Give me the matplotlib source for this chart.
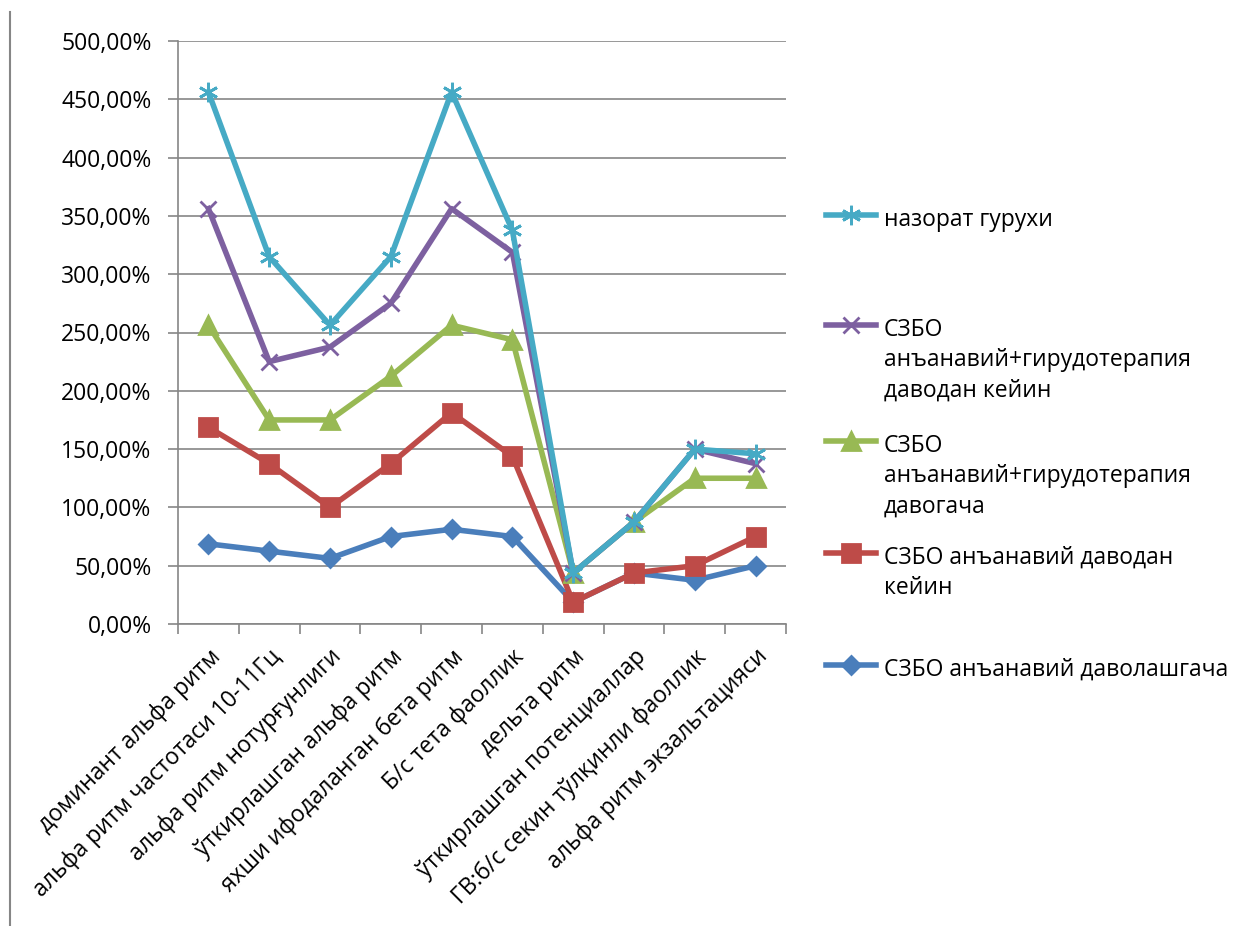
import matplotlib
matplotlib.use('Agg')
import matplotlib.pyplot as plt
from matplotlib.lines import Line2D

plt.rcParams['font.family'] = ['Open Sans', 'DejaVu Sans']

# категориялар
categories = ['доминант альфа ритм', 'альфа ритм частотаси 10-11Гц', 'альфа ритм нотурғунлиги',
              'ўткирлашган альфа ритм', 'яхши ифодаланган бета ритм', 'Б/с тета фаоллик',
              'дельта ритм', 'ўткирлашган потенциаллар', 'ГВ:б/с секин тўлқинли фаоллик',
              'альфа ритм экзальтацияси']

# қийматлар (%)
nazorat = [456.25, 315, 256.25, 315, 456.25, 337.5, 43.75, 87.5, 150, 146]
gir_keyin = [356.25, 225, 237.5, 275, 356.25, 318.75, 43.75, 87.5, 150, 137.5]
gir_gacha = [256.25, 175, 175, 212.5, 256.25, 243.75, 43.75, 87.5, 125, 125]
anan_keyin = [168.75, 137.5, 100, 137.5, 181.25, 143.75, 18.75, 43.75, 50, 75]
anan_gacha = [68.75, 62.5, 56.25, 75, 81.25, 75, 18.75, 43.75, 37.5, 50]

series = [
    ('СЗБО анъанавий даволашгача', anan_gacha, '#4A7EBB', 'D', 9),
    ('СЗБО анъанавий даводан\nкейин', anan_keyin, '#BE4B48', 's', 13),
    ('СЗБО\nанъанавий+гирудотерапия\nдавогача', gir_gacha, '#98B954', '^', 13),
    ('СЗБО\nанъанавий+гирудотерапия\nдаводан кейин', gir_keyin, '#7D60A0', 'x', 12),
    ('назорат гурухи', nazorat, '#46AAC5', (6, 2, 0), 14),
]

fs = 16.5

fig = plt.figure(figsize=(12.42, 9.26), dpi=100)
ax = fig.add_axes([178 / 1242, 1 - 624 / 926, (786 - 178) / 1242, (624 - 41) / 926])

x = list(range(len(categories)))
for name, vals, col, mk, ms in series:
    ax.plot(x, vals, color=col, lw=4, marker=mk, ms=ms, mew=2, mec=col, mfc=col, zorder=3)

ax.set_xlim(-0.5, len(categories) - 0.5)
ax.set_ylim(0, 500)
ax.set_yticks(range(0, 501, 50))
ax.set_yticklabels([f'{v},00%' for v in range(0, 501, 50)], fontsize=fs)
ax.yaxis.grid(True, color='#868686', lw=1.2)
ax.set_axisbelow(True)
ax.set_xticks(x)
ax.set_xticklabels(categories, rotation=45, ha='right', rotation_mode='anchor', fontsize=fs)
ax.set_xticks([i - 0.5 for i in range(len(categories) + 1)], minor=True)
ax.tick_params(axis='x', which='major', length=0, pad=15)
ax.tick_params(axis='x', which='minor', length=7, color='#868686', width=1.2)
ax.tick_params(axis='y', length=7, color='#868686', width=1.2, pad=12)
for s in ['top', 'right']:
    ax.spines[s].set_visible(False)
for s in ['left', 'bottom']:
    ax.spines[s].set_color('#868686')
    ax.spines[s].set_linewidth(1.2)

# легенда
leg_y = [215, 325, 441, 553, 665]
for (name, vals, col, mk, ms), yy in zip(series[::-1], leg_y):
    fy = 1 - yy / 926
    fig.add_artist(Line2D([826 / 1242, 876 / 1242], [fy, fy], color=col, lw=4,
                          transform=fig.transFigure))
    fig.add_artist(Line2D([851 / 1242], [fy], color=col, marker=mk, ms=ms, mew=2,
                          mec=col, mfc=col, transform=fig.transFigure))
    fig.text(884 / 1242, fy + 7 / 926, name, fontsize=fs, va='top', ha='left',
             linespacing=1.36, transform=fig.transFigure)

fig.add_artist(Line2D([10 / 1242, 10 / 1242], [0, 1 - 12 / 926], color='#868686', lw=1.5,
                      transform=fig.transFigure))

fig.savefig('out.png', dpi=100)
